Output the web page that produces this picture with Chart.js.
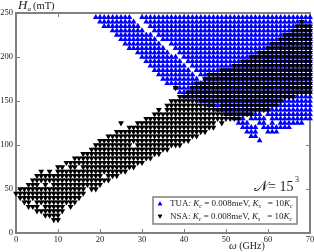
<!DOCTYPE html>
<html>
<head>
<meta charset="utf-8">
<script src="https://cdn.jsdelivr.net/npm/chart.js@4/dist/chart.umd.min.js"></script>
<style>
  html, body { margin: 0; padding: 0; background: #fff; }
  canvas { display: block; }
</style>
</head>
<body>
<canvas id="chart" width="314" height="252"></canvas>
<script>
// Tick labels
const omegaTicks = [0, 10, 20, 30, 40, 50, 60, 70];
const fieldTicks = [0, 50, 100, 150, 200, 250];

// Points, one row per field value (mT).
// Each row is: field, then pairs of first/last omega (GHz) that have a marker
const tuaRows = [
    [245, 19,27, 30,70],
    [240, 20,28, 31,70],
    [235, 21,29, 32,70],
    [230, 23,30, 33,70],
    [225, 24,32, 34,70],
    [220, 25,33, 35,70],
    [215, 26,34, 37,70],
    [210, 27,35, 38,70],
    [205, 29,36, 39,70],
    [200, 30,38, 40,70],
    [195, 31,39, 41,70],
    [190, 32,40, 42,70],
    [185, 33,41, 43,70],
    [180, 34,42, 44,70],
    [175, 35,43, 45,70],
    [170, 36,70],
    [165, 38,70],
    [160, 39,70],
    [155, 40,70],
    [150, 44,70],
    [145, 46,70],
    [140, 48,70],
    [135, 50,58, 60,70],
    [130, 52,54, 56,59, 61,70],
    [125, 53,55, 58,59, 61,61, 63,68],
    [120, 54,57, 59,65],
    [115, 55,57, 60,62],
    [110, 56,57],
    [105, 58,58]
];

const nsaRows = [
    [240, 68,68],
    [235, 67,70],
    [230, 66,70],
    [225, 64,70],
    [220, 63,70],
    [215, 61,70],
    [210, 60,70],
    [205, 58,70],
    [200, 56,70],
    [195, 54,70],
    [190, 52,70],
    [185, 49,70],
    [180, 46,70],
    [175, 45,70],
    [170, 43,70],
    [165, 38,38, 42,70],
    [160, 41,70],
    [155, 39,66],
    [150, 37,63],
    [145, 36,47, 49,62],
    [140, 34,34, 36,60],
    [135, 33,56],
    [130, 31,53],
    [125, 25,25, 29,47, 49,49],
    [120, 27,47],
    [115, 24,45],
    [110, 22,43],
    [105, 20,41],
    [100, 19,27, 29,39],
    [95, 18,36],
    [90, 16,34],
    [85, 14,32],
    [80, 12,30],
    [75, 10,11, 13,14, 16,28],
    [70, 6,6, 8,8, 10,26],
    [65, 5,20, 22,24],
    [60, 4,22],
    [55, 3,5, 7,7, 9,20],
    [50, 1,16, 18,19],
    [45, 0,16],
    [40, 1,15],
    [35, 2,3, 5,14],
    [30, 3,5, 7,11, 13,13],
    [25, 5,11],
    [20, 7,10],
    [15, 9,10]
];

// Turning the rows above into {x, y} points for the scatter datasets
function rowsToPoints(rows) {
    const points = [];
    rows.forEach(function(row) {
        for (let i = 1; i < row.length; i += 2) {
            for (let omega = row[i]; omega <= row[i + 1]; omega++) {
                points.push({ x: omega, y: row[0] });
            }
        }
    });
    return points;
}

const serif = '"Liberation Serif", serif';
const axisGrey = '#808080';
const textColor = '#222';

// Draws a run of text pieces one after the other, each piece: [text, size, italic, yOffset]
function drawPieces(ctx, x, y, pieces) {
    pieces.forEach(function(p) {
        ctx.font = (p[2] ? 'italic ' : '') + p[1] + 'px ' + serif;
        ctx.fillText(p[0], x, y + (p[3] || 0));
        x += ctx.measureText(p[0]).width;
    });
}

function legendLine(ctx, x, y, name) {
    drawPieces(ctx, x, y, [
        [name + ': ', 9, false],
        ['K', 9, true], ['c', 6, true, 2],
        [' = 0.008meV, ', 9, false],
        ['K', 9, true], ['s', 6, true, 2],
        ['   = 10', 9, false],
        ['K', 9, true], ['c', 6, true, 2]
    ]);
}

// Inward tick marks on all four sides, the axis titles and the legend box
const decorations = {
    id: 'decorations',
    beforeDatasetsDraw(chart) {
        const ctx = chart.ctx;
        const a = chart.chartArea;
        ctx.save();
        ctx.strokeStyle = axisGrey;
        ctx.lineWidth = 1;
        ctx.beginPath();
        omegaTicks.forEach(function(v) {
            const x = Math.round(chart.scales.x.getPixelForValue(v)) + 0.5;
            ctx.moveTo(x, a.bottom); ctx.lineTo(x, a.bottom - 4);
            ctx.moveTo(x, a.top); ctx.lineTo(x, a.top + 4);
        });
        fieldTicks.forEach(function(v) {
            const y = Math.round(chart.scales.y.getPixelForValue(v)) + 0.5;
            ctx.moveTo(a.left, y); ctx.lineTo(a.left + 4, y);
            ctx.moveTo(a.right, y); ctx.lineTo(a.right - 4, y);
        });
        ctx.stroke();
        ctx.lineWidth = 2;
        ctx.strokeRect(a.left, a.top, a.right - a.left, a.bottom - a.top);
        ctx.restore();
    },
    afterDraw(chart) {
        const ctx = chart.ctx;
        ctx.save();
        ctx.fillStyle = textColor;
        ctx.textAlign = 'left';
        ctx.textBaseline = 'alphabetic';

        // Axis titles
        drawPieces(ctx, 18, 9, [['H', 13, true], ['a', 7, true, 2]]);
        drawPieces(ctx, 33, 8.5, [['(mT)', 10.5, false]]);
        drawPieces(ctx, 229, 249, [['\u03c9', 11, true], [' (GHz)', 10, false]]);

        // System size label
        drawPieces(ctx, 254, 191, [['\ud835\udca9', 15, false]]);
        drawPieces(ctx, 268, 191, [['= 15', 14, false]]);
        drawPieces(ctx, 295, 182, [['3', 8, false]]);

        // Legend box
        ctx.fillStyle = '#fff';
        ctx.fillRect(153, 197, 144, 27);
        ctx.strokeStyle = axisGrey;
        ctx.lineWidth = 1.5;
        ctx.strokeRect(153, 197, 144, 27);

        const xMark = 160;
        ctx.fillStyle = '#0000ff';
        Chart.helpers.drawPoint(ctx, { pointStyle: 'triangle', radius: 2.6, rotation: 0 }, xMark, 204);
        ctx.fill();
        ctx.fillStyle = '#000';
        Chart.helpers.drawPoint(ctx, { pointStyle: 'triangle', radius: 2.6, rotation: 180 }, xMark, 216);
        ctx.fill();

        ctx.fillStyle = textColor;
        legendLine(ctx, 170, 206, 'TUA');
        legendLine(ctx, 170, 218.5, 'NSA');
        ctx.restore();
    }
};

const tickFont = { family: serif, size: 8.5 };

new Chart(document.getElementById('chart'), {
    type: 'scatter',
    data: {
        datasets: [
            {
                label: 'TUA',
                data: rowsToPoints(tuaRows),
                pointStyle: 'triangle',
                pointRadius: 3.4,
                borderWidth: 0,
                backgroundColor: '#0000ff',
                clip: false,
                order: 2
            },
            {
                label: 'NSA',
                data: rowsToPoints(nsaRows),
                pointStyle: 'triangle',
                pointRotation: 180,
                pointRadius: 3.4,
                borderWidth: 0,
                backgroundColor: '#000000',
                clip: false,
                order: 1
            }
        ]
    },
    options: {
        responsive: false,
        animation: false,
        events: [],
        layout: { padding: { top: 13, right: 4, bottom: 0, left: 0 } },
        plugins: { legend: { display: false }, tooltip: { enabled: false } },
        scales: {
            x: {
                type: 'linear',
                min: 0,
                max: 70,
                grid: { display: false, drawTicks: false },
                border: { display: false },
                afterFit(scale) { scale.height = 19; scale.paddingLeft = 0; scale.paddingRight = 0; },
                afterBuildTicks(scale) { scale.ticks = omegaTicks.map(v => ({ value: v })); },
                ticks: { color: textColor, font: tickFont, maxRotation: 0, padding: 2 }
            },
            y: {
                type: 'linear',
                min: 0,
                max: 250,
                grid: { display: false, drawTicks: false },
                border: { display: false },
                afterFit(scale) { scale.width = 16; scale.paddingTop = 0; scale.paddingBottom = 0; },
                afterBuildTicks(scale) { scale.ticks = fieldTicks.map(v => ({ value: v })); },
                ticks: { color: textColor, font: tickFont, padding: 3 }
            }
        }
    },
    plugins: [decorations]
});
</script>
</body>
</html>
